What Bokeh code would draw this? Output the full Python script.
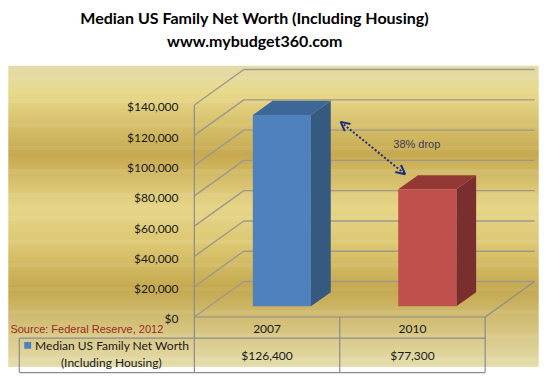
from bokeh.plotting import figure
from bokeh.models import Range1d, Arrow, OpenHead
from bokeh.core.properties import value
from bokeh.embed import file_html
from bokeh.resources import INLINE

# ---------------- data ----------------
title_lines = ["Median US Family Net Worth (Including Housing)", "www.mybudget360.com"]
categories = ["2007", "2010"]
net_worth = [126400, 77300]
value_labels = ["$126,400", "$77,300"]
series_name = ["Median US Family Net Worth", "(Including Housing)"]
y_ticks = [0, 20000, 40000, 60000, 80000, 100000, 120000, 140000]
y_tick_labels = ["$0", "$20,000", "$40,000", "$60,000", "$80,000", "$100,000", "$120,000", "$140,000"]
source_note = "Source:  Federal Reserve, 2012"
drop_note = "38% drop"
front_colors = ["#4F81BD", "#C0504D"]
top_colors = ["#3D6796", "#943835"]
side_colors = ["#36597F", "#7A2E2D"]
series_color = "#4F81BD"

# ---------------- layout (reference-pixel geometry) ----------------
W, H = 543, 375
REF_X0, REF_X1 = 3, 552
REF_YT, REF_YB = 0, 391
ZERO_Y, TOP_Y = 330, 109          # front-plane $0 and $140,000 rows
VMAX = y_ticks[-1]
DPU = VMAX / (ZERO_Y - TOP_Y)      # dollars per reference pixel


def Y(yref):
    return (ZERO_Y - yref) * DPU


WALL_X = 199
CAT_W = 147
DEPTH_X, DEPTH_Y = 50, 37 * DPU
BAR_FRAC = 0.4
D0, D1 = 0.3, 0.7
BACK_RIGHT = 543
TABLE_LEFT = 22
ROW1, ROW2 = 352, 388
GOLD_L, GOLD_R = 11, 547


def proj(x, v, d):
    return x + d * DEPTH_X, v + d * DEPTH_Y


p = figure(width=W, height=H, x_range=Range1d(REF_X0, REF_X1),
           y_range=Range1d(Y(REF_YB), Y(REF_YT)),
           output_backend="svg", toolbar_location=None, min_border=0,
           x_axis_location=None, y_axis_location=None,
           background_fill_color="white", border_fill_color="white",
           outline_line_color=None)
p.grid.visible = False

# ---------------- gold gradient background ----------------
stops = [(68, "#E3DBA9"), (95, "#E8D98B"), (160, "#C6A94F"), (215, "#E6D588"),
         (255, "#DCC771"), (300, "#C4A84F"), (382, "#E5DDAC")]


def hex2rgb(h):
    return tuple(int(h[i:i + 2], 16) for i in (1, 3, 5))


lefts, rights, tops, bottoms, cols = [], [], [], [], []
for yy in range(stops[0][0], stops[-1][0]):
    for (ya, ca), (yb, cb) in zip(stops[:-1], stops[1:]):
        if ya <= yy < yb:
            f = (yy - ya) / (yb - ya)
            a, b = hex2rgb(ca), hex2rgb(cb)
            c = tuple(int(round(a[k] + (b[k] - a[k]) * f)) for k in range(3))
            cols.append("#%02X%02X%02X" % c)
            break
    lefts.append(GOLD_L)
    rights.append(GOLD_R)
    tops.append(Y(yy))
    bottoms.append(Y(min(yy + 1.6, stops[-1][0])))
p.quad(left=lefts, right=rights, top=tops, bottom=bottoms,
       fill_color=cols, line_color=None)

# ---------------- walls / gridlines ----------------
grid_xs, grid_ys = [], []
for t in y_ticks:
    bx, by = proj(WALL_X, t, 1)
    grid_xs.append([WALL_X, bx, BACK_RIGHT])
    grid_ys.append([t, by, by])
p.multi_line(grid_xs, grid_ys, line_color="#9E988A", line_width=1.4)

fr_x = WALL_X + len(categories) * CAT_W
bx, by = proj(fr_x, 0, 1)
p.line([fr_x, bx], [0, by], line_color="#8C8C8C", line_width=1.2)

# ---------------- bars ----------------
for i, v in enumerate(net_worth):
    xc = WALL_X + (i + 0.5) * CAT_W
    xl, xr = xc - BAR_FRAC / 2 * CAT_W, xc + BAR_FRAC / 2 * CAT_W
    pts = [proj(xr, 0, D0), proj(xr, 0, D1), proj(xr, v, D1), proj(xr, v, D0)]
    p.patch([q[0] for q in pts], [q[1] for q in pts], fill_color=side_colors[i], line_color=None)
    pts = [proj(xl, v, D0), proj(xr, v, D0), proj(xr, v, D1), proj(xl, v, D1)]
    p.patch([q[0] for q in pts], [q[1] for q in pts], fill_color=top_colors[i], line_color=None)
    l, b = proj(xl, 0, D0)
    r, t = proj(xr, v, D0)
    p.quad(left=l, right=r, bottom=b, top=t, fill_color=front_colors[i], line_color=None)

# ---------------- annotation arrow ----------------
xc0 = WALL_X + 0.5 * CAT_W
xc1 = WALL_X + 1.5 * CAT_W
sx, sy = proj(xc0 + BAR_FRAC / 2 * CAT_W, net_worth[0], D1)
ex, ey = proj(xc1 - BAR_FRAC / 2 * CAT_W, net_worth[1], D1)
arrow = Arrow(x_start=sx + 10, y_start=sy - 22 * DPU, x_end=ex - 13, y_end=ey + 1 * DPU,
              line_color="#1F2A80", line_width=2, line_dash="2 2",
              start=OpenHead(size=9, line_color="#1F2A80", line_width=2),
              end=OpenHead(size=9, line_color="#1F2A80", line_width=2))
p.add_layout(arrow)
p.text(x=[ex - 25], y=[Y(150)], text=[drop_note], text_font=value("Liberation Sans"),
       text_font_size="11px", text_color="#3A3A5A", text_baseline="middle", text_align="left")

# ---------------- y tick labels ----------------
p.text(x=[183] * len(y_ticks), y=[t - 2 * DPU for t in y_ticks], text=y_tick_labels,
       text_font=value("Lato"), text_font_size="12px", text_color="#1A1A1A",
       text_align="right", text_baseline="middle")

# ---------------- data table ----------------
tc = "#8C8C8C"
p.multi_line(
    [[WALL_X, fr_x], [TABLE_LEFT, fr_x], [TABLE_LEFT, fr_x],
     [TABLE_LEFT, TABLE_LEFT], [WALL_X, WALL_X], [WALL_X + CAT_W, WALL_X + CAT_W], [fr_x, fr_x]],
    [[0, 0], [Y(ROW1), Y(ROW1)], [Y(ROW2), Y(ROW2)],
     [Y(ROW1), Y(ROW2)], [VMAX, Y(ROW2)], [0, Y(ROW2)], [0, Y(ROW2)]],
    line_color=tc, line_width=1.2)

cat_x = [WALL_X + (i + 0.5) * CAT_W for i in range(len(categories))]
p.text(x=cat_x, y=[Y(342)] * len(categories), text=categories, text_font=value("Lato"),
       text_font_size="12px", text_color="#1A1A1A", text_align="center", text_baseline="middle")
p.text(x=cat_x, y=[Y(370)] * len(categories), text=value_labels, text_font=value("Lato"),
       text_font_size="12px", text_color="#1A1A1A", text_align="center", text_baseline="middle")

p.quad(left=[27], right=[34], top=[Y(356)], bottom=[Y(363)], fill_color=series_color, line_color=None)
p.text(x=[38], y=[Y(360)], text=[series_name[0]], text_font=value("Lato"),
       text_font_size="12px", text_color="#1A1A1A", text_align="left", text_baseline="middle")
p.text(x=[115], y=[Y(377)], text=[series_name[1]], text_font=value("Lato"),
       text_font_size="12px", text_color="#1A1A1A", text_align="center", text_baseline="middle")

p.text(x=[13], y=[Y(342)], text=[source_note], text_font=value("Liberation Sans"),
       text_font_size="11px", text_color="#9A2B1E", text_align="left", text_baseline="middle")

# ---------------- title ----------------
p.text(x=[260, 260], y=[Y(18), Y(42)], text=title_lines, text_font=value("Lato"),
       text_font_size="16px", text_font_style="bold", text_color="#000000",
       text_align="center", text_baseline="middle")

open("out.html", "w").write(file_html(p, INLINE))
